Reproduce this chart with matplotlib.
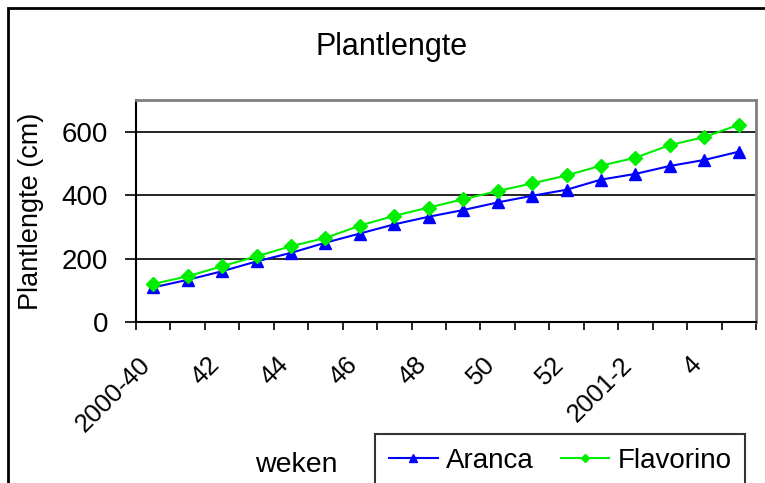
import matplotlib.pyplot as plt
from matplotlib.patches import Rectangle
from matplotlib.transforms import ScaledTranslation

plt.rcParams['font.family'] = ['Liberation Sans', 'DejaVu Sans']

# weken 2000-40 t/m 2001-5
weken = ['2000-40', '41', '42', '43', '44', '45', '46', '47', '48', '49',
         '50', '51', '52', '2001-1', '2001-2', '3', '4', '5']
aranca = [109, 133, 160, 191, 218, 250, 279, 308, 332, 353,
          377, 398, 417, 449, 467, 492, 511, 537]
flavorino = [120, 144, 176, 207, 239, 265, 304, 335, 361, 387,
             413, 437, 462, 493, 518, 558, 583, 622]
yticks = [0, 200, 400, 600]

W, H = 765, 483
fig = plt.figure(figsize=(W / 100, H / 100), dpi=100)
ax = fig.add_axes([136 / W, 1 - 322 / H, 620 / W, 222 / H])

x = list(range(len(weken)))
ax.plot(x, aranca, color='#0000ff', lw=1.5, marker='^', ms=8.5, label='Aranca', zorder=3)
ax.plot(x, flavorino, color='#00ee00', lw=1.5, marker='D', ms=7, label='Flavorino', zorder=3)

ax.set_ylim(0, 700)
ax.set_xlim(-0.5, len(weken) - 0.5)
ax.set_yticks(yticks)
ax.tick_params(axis='y', direction='out', length=8, width=1.2, pad=12, labelsize=20)
for v in yticks[1:]:
    ax.axhline(v, color='black', lw=1.2, zorder=1)

# labels op elke tweede week, streepjes op de grenzen
ax.set_xticks(x[::2])
ax.set_xticklabels(weken[::2], rotation=45, ha='right', rotation_mode='anchor')
ax.set_xticks([i - 0.5 for i in range(len(weken) + 1)], minor=True)
ax.tick_params(axis='x', which='major', length=0, pad=22, labelsize=18.5)
ax.tick_params(axis='x', which='minor', direction='out', length=6, width=1.2)
shift = ScaledTranslation(-0.15, 0, fig.dpi_scale_trans)
for lbl in ax.get_xticklabels():
    lbl.set_transform(lbl.get_transform() + shift)

for s in ['left', 'bottom']:
    ax.spines[s].set_color('black')
    ax.spines[s].set_linewidth(1.5)
for s in ['top', 'right']:
    ax.spines[s].set_color('#808080')
    ax.spines[s].set_linewidth(2)

ax.set_ylabel('Plantlengte (cm)', fontsize=19.5)
ax.yaxis.set_label_coords(-0.148, 0.5)
fig.text(296 / W, 1 - 465 / H, 'weken', fontsize=20.5, ha='center', va='center')
fig.suptitle('Plantlengte', x=392 / W, y=1 - 47 / H, va='center', fontsize=22)

leg = fig.legend(loc='upper left', bbox_to_anchor=(375 / W, 1 - 434 / H), ncol=2,
                 fontsize=20, frameon=True, fancybox=False, edgecolor='black',
                 handlelength=1.76, columnspacing=0.97, handletextpad=0.29,
                 borderaxespad=0, borderpad=0.5, markerscale=0.6)
leg.get_frame().set_linewidth(1.5)

fig.patches.append(Rectangle((8 / W, -0.1), 1.2, 1 - 8 / H + 0.1, transform=fig.transFigure,
                             fill=False, edgecolor='black', lw=2))

fig.savefig('out.png', dpi=100)
